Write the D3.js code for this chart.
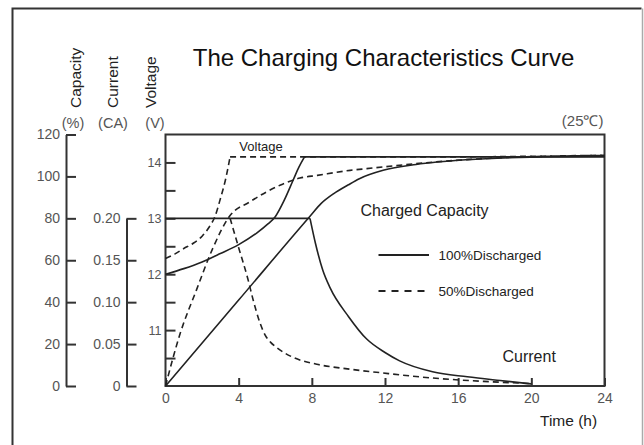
<!DOCTYPE html>
<html>
<head>
<meta charset="utf-8">
<script src="https://cdn.jsdelivr.net/npm/d3@7"></script>
<style>
  html, body { margin: 0; padding: 0; background: #fff; }
  svg { display: block; font-family: "Liberation Sans", Arial, sans-serif; }
</style>
</head>
<body>
<svg id="chart" width="644" height="445"></svg>
<script>
// ---- data ----
const timeTicks = [0, 4, 8, 12, 16, 20, 24];
const capacityTicks = [0, 20, 40, 60, 80, 100, 120];
const currentTicks = [0, 0.05, 0.10, 0.15, 0.20];
const voltageTicks = [10.5, 11, 11.5, 12, 12.5, 13, 13.5, 14];

// [time (h), volts]
const voltage100Rise = [[0,12.0],[1,12.1],[2,12.22],[3,12.37],[4,12.53],[5,12.74],[5.6,12.9],[6,13.03],[6.5,13.33],[7,13.7],[7.3,13.92],[7.6,14.1]];
const voltage100Float = [[7.6,14.1],[24,14.1]];
const voltage50Rise = [[0,12.28],[0.5,12.36],[1,12.46],[1.5,12.55],[2,12.68],[2.4,12.85],[2.7,13.03],[3.0,13.35],[3.3,13.72],[3.53,14.1]];
const voltage50Float = [[3.53,14.1],[7.6,14.1],[16,14.1],[20,14.11],[24,14.13]];
// [time (h), capacity %]
const capacity100 = [[0,0],[4,41],[7.9,81],[8.5,87],[9.2,91.8],[10.0,96],[10.6,98.9],[11.9,102.9],[13.7,105.7],[16.5,108],[20.1,109.2],[24,109.6]];
const capacity50 = [[0,0],[0.8,25],[1.7,46],[2.6,66],[3.5,81],[4.6,87.8],[5.5,92.5],[6.4,96.3],[7.35,99.2],[8.3,100.5],[10.1,102.9],[11,103.7],[14.6,106.8],[18.3,108.9],[24,110]];
// [time (h), current CA]
const current100Flat = [[0,0.2],[7.9,0.2]];
const current100Decay = [[7.9,0.2],[8.2,0.17],[8.6,0.138],[9.0,0.117],[10.0,0.083],[11,0.056],[12,0.04],[12.8,0.03],[14.6,0.017],[16.5,0.011],[18.3,0.0065],[20,0.0025]];
const current50Decay = [[3.53,0.2],[4.0,0.165],[4.5,0.128],[4.8,0.102],[5.17,0.075],[5.44,0.061],[5.75,0.052],[6.07,0.046],[6.99,0.034],[8.27,0.026],[10.09,0.02],[11.9,0.0155],[14.6,0.0095],[17.4,0.0055],[19.9,0.003]];

// ---- scales ----
const svg = d3.select("#chart");
const x = d3.scaleLinear().domain([0, 24]).range([165.5, 604.5]);
const yCap = d3.scaleLinear().domain([0, 120]).range([386, 134.5]);
const yCur = d3.scaleLinear().domain([0, 0.3]).range([386, 134.5]);
const yVolt = d3.scaleLinear().domain([10, 14.5]).range([386, 134.5]);

const ink = "#222", axisInk = "#333", labelInk = "#555";

// outer frame
svg.append("path").attr("d", "M12.5,446V8.5H641.5").attr("fill", "none").attr("stroke", "#333").attr("stroke-width", 2);
svg.append("path").attr("d", "M642.5,8.5V446").attr("fill", "none").attr("stroke", "#aaa").attr("stroke-width", 1.5);

// title
svg.append("text").attr("x", 383.5).attr("y", 66).attr("text-anchor", "middle")
  .attr("font-size", 24).attr("fill", "#111").text("The Charging Characteristics Curve");

// rotated axis titles + units
const axTitles = [["Capacity", 76, "(%)", 73], ["Current", 113, "(CA)", 113], ["Voltage", 151, "(V)", 155]];
axTitles.forEach(([t, cx, u, ux]) => {
  svg.append("text").attr("transform", `translate(${cx},108) rotate(-90)`)
    .attr("dy", "0.35em").style("font-size", "15.5px").attr("fill", "#222").text(t);
  svg.append("text").attr("x", ux).attr("y", 128).attr("text-anchor", "middle")
    .style("font-size", "14.5px").attr("fill", labelInk).text(u);
});
svg.append("text").attr("x", 603.5).attr("y", 126).attr("text-anchor", "end")
  .attr("font-size", 15).attr("fill", labelInk).text("(25\u2103)");

function styleAxis(g, fs) {
  g.attr("font-size", null).attr("font-family", null);
  g.selectAll("path.domain").attr("stroke", axisInk).attr("stroke-width", 2);
  g.selectAll(".tick line").attr("stroke", axisInk).attr("stroke-width", 2);
  g.selectAll(".tick text").attr("fill", labelInk).style("font-size", fs + "px");
}

// capacity axis
const gCap = svg.append("g").attr("transform", "translate(66,0)")
  .call(d3.axisLeft(yCap).tickValues(capacityTicks).tickSizeInner(-10).tickSizeOuter(0).tickPadding(6).tickFormat(d3.format("d")));
styleAxis(gCap, 14);

// current axis
const yCurAxis = yCur.copy().domain([0, 0.2]).range([yCur(0), yCur(0.2)]);
const gCur = svg.append("g").attr("transform", "translate(126.5,0)")
  .call(d3.axisLeft(yCurAxis).tickValues(currentTicks).tickSizeInner(-10).tickSizeOuter(0).tickPadding(6)
    .tickFormat(d => d === 0 ? "0" : d3.format(".2f")(d)));
styleAxis(gCur, 14);

// voltage axis (left edge of plot)
const gVolt = svg.append("g").attr("transform", "translate(165.5,0)")
  .call(d3.axisLeft(yVolt).tickValues(voltageTicks).tickSizeInner(-10).tickSizeOuter(0).tickPadding(4)
    .tickFormat(d => Number.isInteger(d) ? d3.format("d")(d) : ""));
gVolt.select("path.domain").remove();
styleAxis(gVolt, 12.5);

// x axis
const gX = svg.append("g").attr("transform", "translate(0,386)")
  .call(d3.axisBottom(x).tickValues(timeTicks).tickSizeInner(-8).tickSizeOuter(0).tickPadding(7));
gX.select("path.domain").remove();
styleAxis(gX, 14);

// plot box
svg.append("rect").attr("x", x(0)).attr("y", yCap(120)).attr("width", x(24) - x(0)).attr("height", yCap(0) - yCap(120))
  .attr("fill", "none").attr("stroke", axisInk).attr("stroke-width", 2);

svg.append("text").attr("x", 540).attr("y", 426).attr("font-size", 15.5).attr("fill", "#222").text("Time (h)");

// curves
function draw(data, yS, dashed, curve) {
  const gen = d3.line().x(d => x(d[0])).y(d => yS(d[1])).curve(curve || d3.curveMonotoneX);
  svg.append("path").datum(data).attr("d", gen).attr("fill", "none")
    .attr("stroke", ink).attr("stroke-width", 1.6)
    .attr("stroke-dasharray", dashed ? "6,4" : null);
}
draw(voltage100Rise, yVolt, false);
draw(voltage100Float, yVolt, false, d3.curveLinear);
draw(voltage50Rise, yVolt, true);
draw(voltage50Float, yVolt, true);
draw(capacity100, yCap, false);
draw(capacity50, yCap, true);
draw(current100Flat, yCur, false, d3.curveLinear);
draw(current100Decay, yCur, false);
draw(current50Decay, yCur, true);

// annotations
svg.append("text").attr("x", 261).attr("y", 150.5).attr("text-anchor", "middle").attr("font-size", 13).attr("fill", "#222").text("Voltage");
svg.append("text").attr("x", 360.5).attr("y", 215.5).attr("font-size", 16).attr("fill", "#222").text("Charged Capacity");
svg.append("text").attr("x", 502.5).attr("y", 362).attr("font-size", 16).attr("fill", "#222").text("Current");

// legend
const legend = [["100%Discharged", false, 255], ["50%Discharged", true, 291]];
legend.forEach(([lab, dashed, ly]) => {
  svg.append("line").attr("x1", 378.5).attr("x2", 429).attr("y1", ly).attr("y2", ly)
    .attr("stroke", ink).attr("stroke-width", 1.8).attr("stroke-dasharray", dashed ? "7,6" : null);
  svg.append("text").attr("x", 438.5).attr("y", ly + 4.8).attr("font-size", 13.5).attr("fill", "#222").text(lab);
});
</script>
</body>
</html>
